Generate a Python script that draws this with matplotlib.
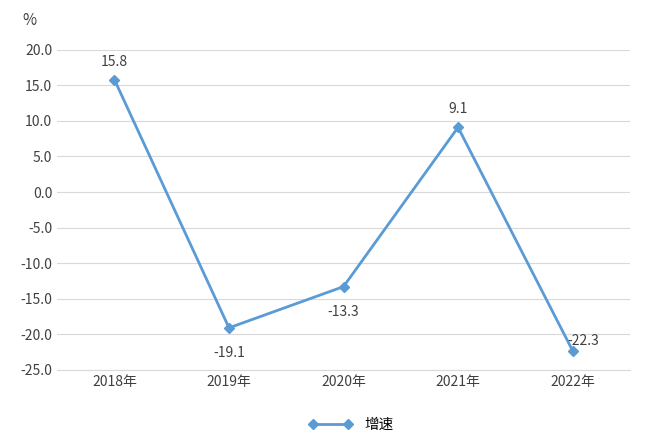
import matplotlib
matplotlib.use("Agg")
import matplotlib.pyplot as plt

plt.rcParams['font.family'] = ['Noto Sans CJK SC', 'DejaVu Sans']

years = ["2018年", "2019年", "2020年", "2021年", "2022年"]
growth = [15.8, -19.1, -13.3, 9.1, -22.3]
series_name = "增速"

fig = plt.figure(figsize=(6.5, 4.45), dpi=100)
ax = fig.add_axes([0.088, 0.169, 0.881, 0.719])
color = "#5B9BD5"
x = range(len(years))
ax.plot(x, growth, color=color, lw=2, marker="D", ms=5, label=series_name)
ax.set_xlim(-0.5, len(years) - 0.5)
ax.set_ylim(-25, 20)
ax.set_yticks([20 - 5 * i for i in range(10)])
ax.set_yticklabels([f"{20 - 5 * i:.1f}" for i in range(10)])
ax.set_xticks(list(x))
ax.set_xticklabels(years)
ax.grid(axis="y", color="#D9D9D9", lw=0.8)
ax.set_axisbelow(True)
for s in ["top", "right", "left"]:
    ax.spines[s].set_visible(False)
ax.spines["bottom"].set_color("#D9D9D9")
ax.tick_params(length=0, labelsize=10, colors="#404040")
offsets = [(0, 13), (0, -18), (0, -18), (0, 13), (8, 7)]
for i, v in enumerate(growth):
    ax.annotate(f"{v:.1f}", (i, v), xytext=offsets[i], textcoords="offset points",
                ha="center", va="center", fontsize=10, color="#404040")
fig.text(0.035, 0.955, "%", fontsize=11, color="#404040", va="center")
fig.legend(loc="center", bbox_to_anchor=(0.54, 0.045), frameon=False, fontsize=10.5,
           handlelength=3, numpoints=2)
fig.savefig("out.png", dpi=100)
